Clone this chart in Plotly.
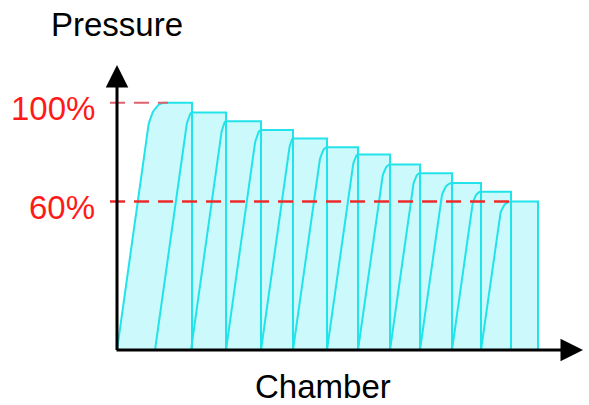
import numpy as np
import plotly.graph_objects as go

# ---- data ----
chambers = list(range(1, 13))
pressure_pct = [100, 96, 92.5, 89, 85.5, 82, 79, 75, 71.5, 67.5, 64, 60]
rise_start = [0, 3.8, 7.4, 10.9, 14.4, 17.6, 21.0, 24.1, 27.3, 30.3, 33.5, 36.4]
plateau_start = [4.8, 7.5, 10.9, 14.4, 17.6, 21.0, 24.1, 27.3, 30.3, 33.5, 36.4, 39.4]
plateau_end = [7.5, 10.9, 14.4, 17.6, 21.0, 24.1, 27.3, 30.3, 33.5, 36.4, 39.4, 42.1]
ref_levels = [100, 60]
ref_labels = ["100%", "60%"]
ref_line_end = [5.1, 39.4]
x_title = "Chamber"
y_title = "Pressure"

# ---- styling / layout ----
FILL = "#ccf9fb"
EDGE = "#22e3ea"
RISE = 0.034   # x units per % along the straight part of a rise
KNEE = 0.86    # fraction of plateau where the rise starts to round over
FONT = "Liberation Sans, Arial, sans-serif"
W, H = 589, 405
ML, MR, MT, MB = 107, 4, 60, 50
PW, PH = W - ML - MR, H - MT - MB


def px2paper(px, py):
    """figure-pixel position -> paper coordinates"""
    return (px - ML) / PW, (MT + PH - py) / PH


def chamber_outline(s, e, end, p):
    kx, ky = s + RISE * KNEE * p, KNEE * p
    cx, cy = s + RISE * p, p
    t = np.linspace(0, 1, 16)
    bx = (1 - t) ** 2 * kx + 2 * (1 - t) * t * cx + t ** 2 * e
    by = (1 - t) ** 2 * ky + 2 * (1 - t) * t * cy + t ** 2 * p
    xs = [s] + list(bx) + [end, end]
    ys = [0] + list(by) + [p, 0]
    return xs, ys


fig = go.Figure()
outlines = [chamber_outline(s, e, end, p) for s, e, end, p in
            zip(rise_start, plateau_start, plateau_end, pressure_pct)]

for xs, ys in outlines:
    fig.add_trace(go.Scatter(x=xs + [xs[0]], y=ys + [ys[0]], mode="lines",
                             fill="toself", fillcolor=FILL,
                             line=dict(width=0), hoverinfo="skip"))
for xs, ys in outlines:
    fig.add_trace(go.Scatter(x=xs, y=ys, mode="lines",
                             line=dict(color=EDGE, width=2), hoverinfo="skip"))

ref_colors = ["#e0606e", "#ee2b2b"]
ref_widths = [2, 2.5]
for lvl, xe, c, w in zip(ref_levels, ref_line_end, ref_colors, ref_widths):
    fig.add_trace(go.Scatter(x=[-0.7, xe], y=[lvl, lvl], mode="lines",
                             line=dict(color=c, width=w, dash="15px,9px"),
                             hoverinfo="skip"))

annotations = [
    # y axis arrow
    dict(x=0, y=115.2, ax=0, ay=-0.6, xref="x", yref="y", axref="x", ayref="y",
         showarrow=True, arrowhead=2, arrowwidth=3, arrowsize=1.5,
         arrowcolor="black", text="", standoff=0),
    # x axis arrow
    dict(x=46.6, y=0, ax=-0.2, ay=0, xref="x", yref="y", axref="x", ayref="y",
         showarrow=True, arrowhead=2, arrowwidth=3, arrowsize=1.5,
         arrowcolor="black", text="", standoff=0),
]

px, py = px2paper(117, 24.1)
annotations.append(dict(x=px, y=py, xref="paper", yref="paper", text=y_title,
                        showarrow=False, xanchor="center", yanchor="middle",
                        font=dict(family=FONT, size=33, color="black")))
px, py = px2paper(322.5, 386.3)
annotations.append(dict(x=px, y=py, xref="paper", yref="paper", text=x_title,
                        showarrow=False, xanchor="center", yanchor="middle",
                        font=dict(family=FONT, size=33, color="black")))
for lab, cy in zip(ref_labels, [108.5, 207]):
    px, py = px2paper(97, cy)
    annotations.append(dict(x=px, y=py, xref="paper", yref="paper", text=lab,
                            showarrow=False, xanchor="right", yanchor="middle",
                            font=dict(family=FONT, size=33, color="#ff1a1a")))

fig.update_layout(
    width=W, height=H,
    margin=dict(l=ML, r=MR, t=MT, b=MB),
    paper_bgcolor="white", plot_bgcolor="white",
    showlegend=False,
    xaxis=dict(range=[-1, 46.8], visible=False, fixedrange=True),
    yaxis=dict(range=[-2, 117.25], visible=False, fixedrange=True),
    annotations=annotations,
)

fig.write_html("out.html",
               config={"displayModeBar": False},
               post_script="document.body.style.margin='0px';")
